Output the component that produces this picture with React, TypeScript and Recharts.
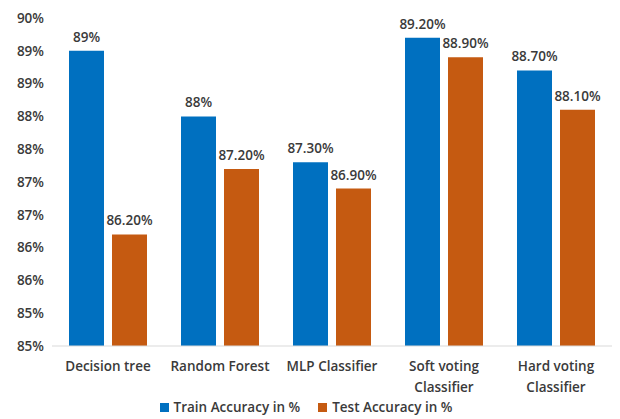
import React from 'react'
import { Bar, BarChart, LabelList, Legend, XAxis, YAxis } from 'recharts'

const models = ['Decision tree', 'Random Forest', 'MLP Classifier', 'Soft voting Classifier', 'Hard voting Classifier']
const trainAccuracy = [89, 88, 87.3, 89.2, 88.7]
const testAccuracy = [86.2, 87.2, 86.9, 88.9, 88.1]
const yTicks = [84.5, 85, 85.5, 86, 86.5, 87, 87.5, 88, 88.5, 89, 89.5]

const data = models.map((name, i) => ({
  name,
  train: trainAccuracy[i],
  test: testAccuracy[i],
}))

const series = [
  { key: 'train', name: 'Train Accuracy in %', color: '#0070C0' },
  { key: 'test', name: 'Test Accuracy in %', color: '#C55A11' },
]

const FONT = '"Open Sans", sans-serif'
const TEXT = '#3a3a3a'

const pct = (v: number) => (Number.isInteger(v) ? `${v}%` : `${v.toFixed(2)}%`)

// long names go on two lines, broken at the last space
const ModelTick = (props: any) => {
  const { x, y, payload } = props
  const s: string = payload.value
  const lines = s.length > 15 ? [s.slice(0, s.lastIndexOf(' ')), s.slice(s.lastIndexOf(' ') + 1)] : [s]
  return (
    <g transform={`translate(${x},${y})`}>
      {lines.map((l, i) => (
        <text key={i} x={0} y={17 + i * 21} textAnchor='middle' fill={TEXT} fontSize={13.5} fontWeight={600} fontFamily={FONT}>
          {l}
        </text>
      ))}
    </g>
  )
}

const SeriesLegend = () => (
  <div style={{ display: 'flex', justifyContent: 'center', gap: 18, fontFamily: FONT, fontSize: 13.5, fontWeight: 600, color: TEXT, paddingTop: 2 }}>
    {series.map((s) => (
      <span key={s.key} style={{ display: 'flex', alignItems: 'center' }}>
        <span style={{ width: 9, height: 9, background: s.color, marginRight: 5, display: 'inline-block' }} />
        {s.name}
      </span>
    ))}
  </div>
)

const App = () => {
  return (
    <div style={{ position: 'absolute', left: 0, top: 0, background: '#fff' }}>
      <BarChart width={620} height={419} data={data} barSize={35} barGap={8} margin={{ top: 18, right: 8, left: 0, bottom: 0 }}>
        <XAxis dataKey='name' interval={0} height={50} tickLine={false} axisLine={{ stroke: '#d9d9d9' }} tick={<ModelTick />} />
        <YAxis
          domain={[84.5, 89.5]}
          ticks={yTicks}
          allowDataOverflow
          width={52}
          axisLine={false}
          tickLine={false}
          tick={{ fill: TEXT, fontSize: 13.5, fontWeight: 600, fontFamily: FONT }}
          tickFormatter={(v: number) => `${Math.round(v)}%`}
        />
        <Legend verticalAlign='bottom' wrapperStyle={{ height: 23 }} content={<SeriesLegend />} />
        {series.map((s) => (
          <Bar key={s.key} dataKey={s.key} name={s.name} fill={s.color} isAnimationActive={false}>
            <LabelList dataKey={s.key} position='top' offset={9} formatter={(v: any) => pct(v)} fill={TEXT} fontSize={13.5} fontWeight={600} fontFamily={FONT} />
          </Bar>
        ))}
      </BarChart>
    </div>
  )
}

export default App
